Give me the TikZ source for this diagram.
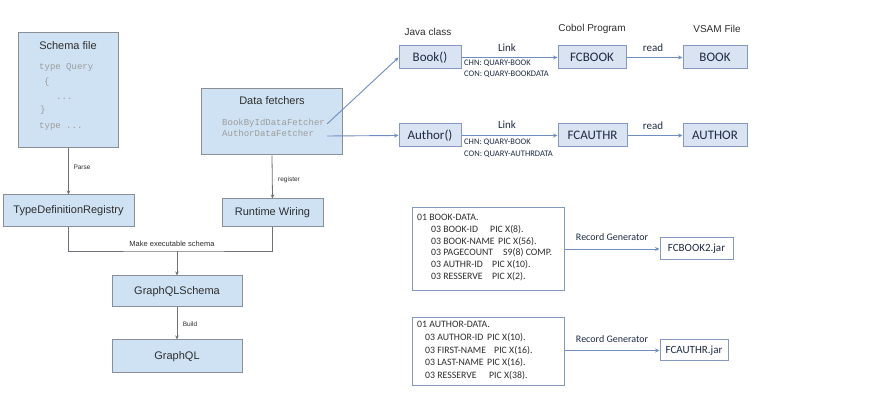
\documentclass[tikz,border=0pt]{standalone}
\usepackage{fontspec}
\setmainfont{Liberation Sans}
\setmonofont{Liberation Mono}
\newfontfamily\calib{Carlito}
\usetikzlibrary{arrows.meta}
\definecolor{lfill}{HTML}{CFE2F3}
\definecolor{lborder}{HTML}{8A8F96}
\definecolor{rfill}{HTML}{D9E3F2}
\definecolor{rborder}{HTML}{8599C0}
\definecolor{rarrow}{HTML}{6F8DBE}
\definecolor{ltext}{HTML}{2E2E2E}
\definecolor{rtext}{HTML}{1F2B45}
\definecolor{codegray}{HTML}{9C9C9C}
\newcommand\fsz[2]{\fontsize{#1}{#2}\selectfont}
\begin{document}
\begin{tikzpicture}[x=1pt,y=-1pt,
  sz/.style 2 args={minimum width=#1pt, minimum height=#2pt},
  lbox/.style={draw=lborder, fill=lfill, line width=1pt, inner sep=0pt, text=ltext, font=\fsz{11}{13}},
  rbox/.style={draw=rborder, fill=rfill, line width=1pt, inner sep=0pt, text=rtext, font=\calib\fsz{13}{15}},
  wbox/.style={draw=rborder, fill=white, line width=1pt, inner sep=0pt, text=rtext},
  lbl/.style={inner sep=0pt, text height=0.7em, text depth=0.15em},
  code/.style={lbl, anchor=west, text=codegray, font=\ttfamily\fsz{9}{10}},
  small/.style={lbl, text=ltext, font=\fsz{6.5}{8}},
  rlbl/.style={lbl, text=rtext, font=\calib\fsz{11}{13}},
  hdr/.style={lbl, text=ltext, font=\fsz{10}{12}},
  chn/.style={lbl, anchor=west, text=rtext, font=\calib\fsz{8.5}{10}},
  rec/.style={lbl, anchor=west, text=ltext, font=\calib\fsz{9.8}{12}},
  larr/.style={draw=lborder!80!black, line width=0.8pt, -{Stealth[length=4pt,width=3.5pt]}},
  lline/.style={draw=lborder!80!black, line width=0.8pt},
  rarr/.style={draw=rarrow, line width=0.9pt, -{Stealth[length=4.5pt,width=4pt]}}
]
\useasboundingbox[fill=white] (0,0) rectangle (871,403);

% ---- left part
\node[lbox, sz={100}{115}] (schema) at (68,90.5) {};
\node[lbl, text=ltext, font=\fsz{11}{13}] (schemat) at (68,47) {Schema file};
\node[code] (c1) at (39,67) {type Query};
\node[code] (c2) at (44,82) {\{};
\node[code] (c3) at (56,97) {...};
\node[code] (c4) at (40,110) {\}};
\node[code] (c5) at (39,126) {type ...};

\node[lbox, sz={131}{32}] (tdr) at (68.5,211) {TypeDefinitionRegistry};

\node[lbox, sz={141}{66}] (df) at (272,122) {};
\node[lbl, text=ltext, font=\fsz{11}{13}] (dft) at (272,102) {Data fetchers};
\node[code] (d1) at (222,123) {BookByIdDataFetcher};
\node[code] (d2) at (222,134) {AuthorDataFetcher};

\node[lbox, sz={101}{28}] (rw) at (272.5,213) {Runtime Wiring};
\node[lbox, sz={130}{31}] (gqs) at (177,291.5) {GraphQLSchema};
\node[lbox, sz={130}{33}] (gq) at (177,356.5) {GraphQL};

\draw[larr] (schema.south -| tdr.north) -- (tdr.north);
\node[small] (parse) at (82,167) {Parse};
\draw[larr] (df.south) -- (rw.north);
\node[small] (reg) at (289,179) {register};
\coordinate (mrg) at (177,251);
\draw[lline] (tdr.south) |- (mrg) -| (rw.south);
\node[small, font=\fsz{7.5}{9}] (mes) at (172,244) {Make executable schema};
\draw[larr] (mrg) -- (gqs.north);
\draw[larr] (gqs.south) -- (gq.north);
\node[small] (build) at (190,324) {Build};

% ---- right part
\node[hdr] (jc) at (428,33) {Java class};
\node[hdr] (cp) at (592,29) {Cobol Program};
\node[hdr] (vs) at (717,30) {VSAM File};

\node[rbox, sz={62}{23}] (book) at (430,57.5) {Book()};
\node[rbox, sz={68}{23}] (fcbook) at (592,57.5) {FCBOOK};
\node[rbox, sz={64}{23}] (bookf) at (715,57.5) {BOOK};
\node[rbox, sz={62}{23}] (author) at (430,135.5) {Author()};
\node[rbox, sz={69}{23}] (fcauthr) at (592.5,135.5) {FCAUTHR};
\node[rbox, sz={64}{23}] (authorf) at (715,135.5) {AUTHOR};

\coordinate (df1) at (327,124);
\coordinate (df2) at (327,136);
\draw[rarr] (df1) -- (book.west);
\draw[rarr] (df2) -- (author.west);

\draw[rarr] (book.east) -- (fcbook.west);
\node[rlbl] (link1) at (507,49) {Link};
\node[chn] (chn1) at (464,63) {CHN: QUARY-BOOK};
\node[chn] (con1) at (464,74) {CON: QUARY-BOOKDATA};
\draw[rarr] (fcbook.east) -- (bookf.west);
\node[rlbl] (read1) at (653,49) {read};

\draw[rarr] (author.east) -- (fcauthr.west);
\node[rlbl] (link2) at (507,126) {Link};
\node[chn] (chn2) at (464,142) {CHN: QUARY-BOOK};
\node[chn] (con2) at (464,154) {CON: QUARY-AUTHRDATA};
\draw[rarr] (fcauthr.east) -- (authorf.west);
\node[rlbl] (read2) at (653,127) {read};

% ---- record boxes
\node[wbox, sz={152}{83}] (rec1) at (488,249.5) {};
\node[rec] (r1a) at (417,218) {01 BOOK-DATA.};
\node[rec] (r1b) at (431,230) {\makebox[59pt][l]{03 BOOK-ID}PIC X(8).};
\node[rec] (r1c) at (431,241.5) {\makebox[67pt][l]{03 BOOK-NAME}PIC X(56).};
\node[rec] (r1d) at (431,253) {\makebox[72pt][l]{03 PAGECOUNT}S9(8) COMP.};
\node[rec] (r1e) at (431,265) {\makebox[61pt][l]{03 AUTHR-ID}PIC X(10).};
\node[rec] (r1f) at (431,277) {\makebox[61pt][l]{03 RESSERVE}PIC X(2).};
\node[wbox, sz={73}{22}, font=\calib\fsz{11}{13}] (jar1) at (696.5,249) {FCBOOK2.jar};
\draw[rarr] (rec1.east |- jar1.west) -- (jar1.west);
\node[rlbl, font=\calib\fsz{10}{12}] (rg1) at (612,238) {Record Generator};

\node[wbox, sz={152}{68}] (rec2) at (488,352) {};
\node[rec] (r2a) at (417,325) {01 AUTHOR-DATA.};
\node[rec] (r2b) at (425,338) {\makebox[62pt][l]{03 AUTHOR-ID}PIC X(10).};
\node[rec] (r2c) at (425,350.5) {\makebox[69pt][l]{03 FIRST-NAME}PIC X(16).};
\node[rec] (r2d) at (425,363) {\makebox[62pt][l]{03 LAST-NAME}PIC X(16).};
\node[rec] (r2e) at (425,376) {\makebox[64pt][l]{03 RESSERVE}PIC X(38).};
\node[wbox, sz={68}{21}, font=\calib\fsz{11}{13}] (jar2) at (694,350.5) {FCAUTHR.jar};
\draw[rarr] (rec2.east |- jar2.west) -- (jar2.west);
\node[rlbl, font=\calib\fsz{10}{12}] (rg2) at (612,340) {Record Generator};
\end{tikzpicture}
\end{document}
